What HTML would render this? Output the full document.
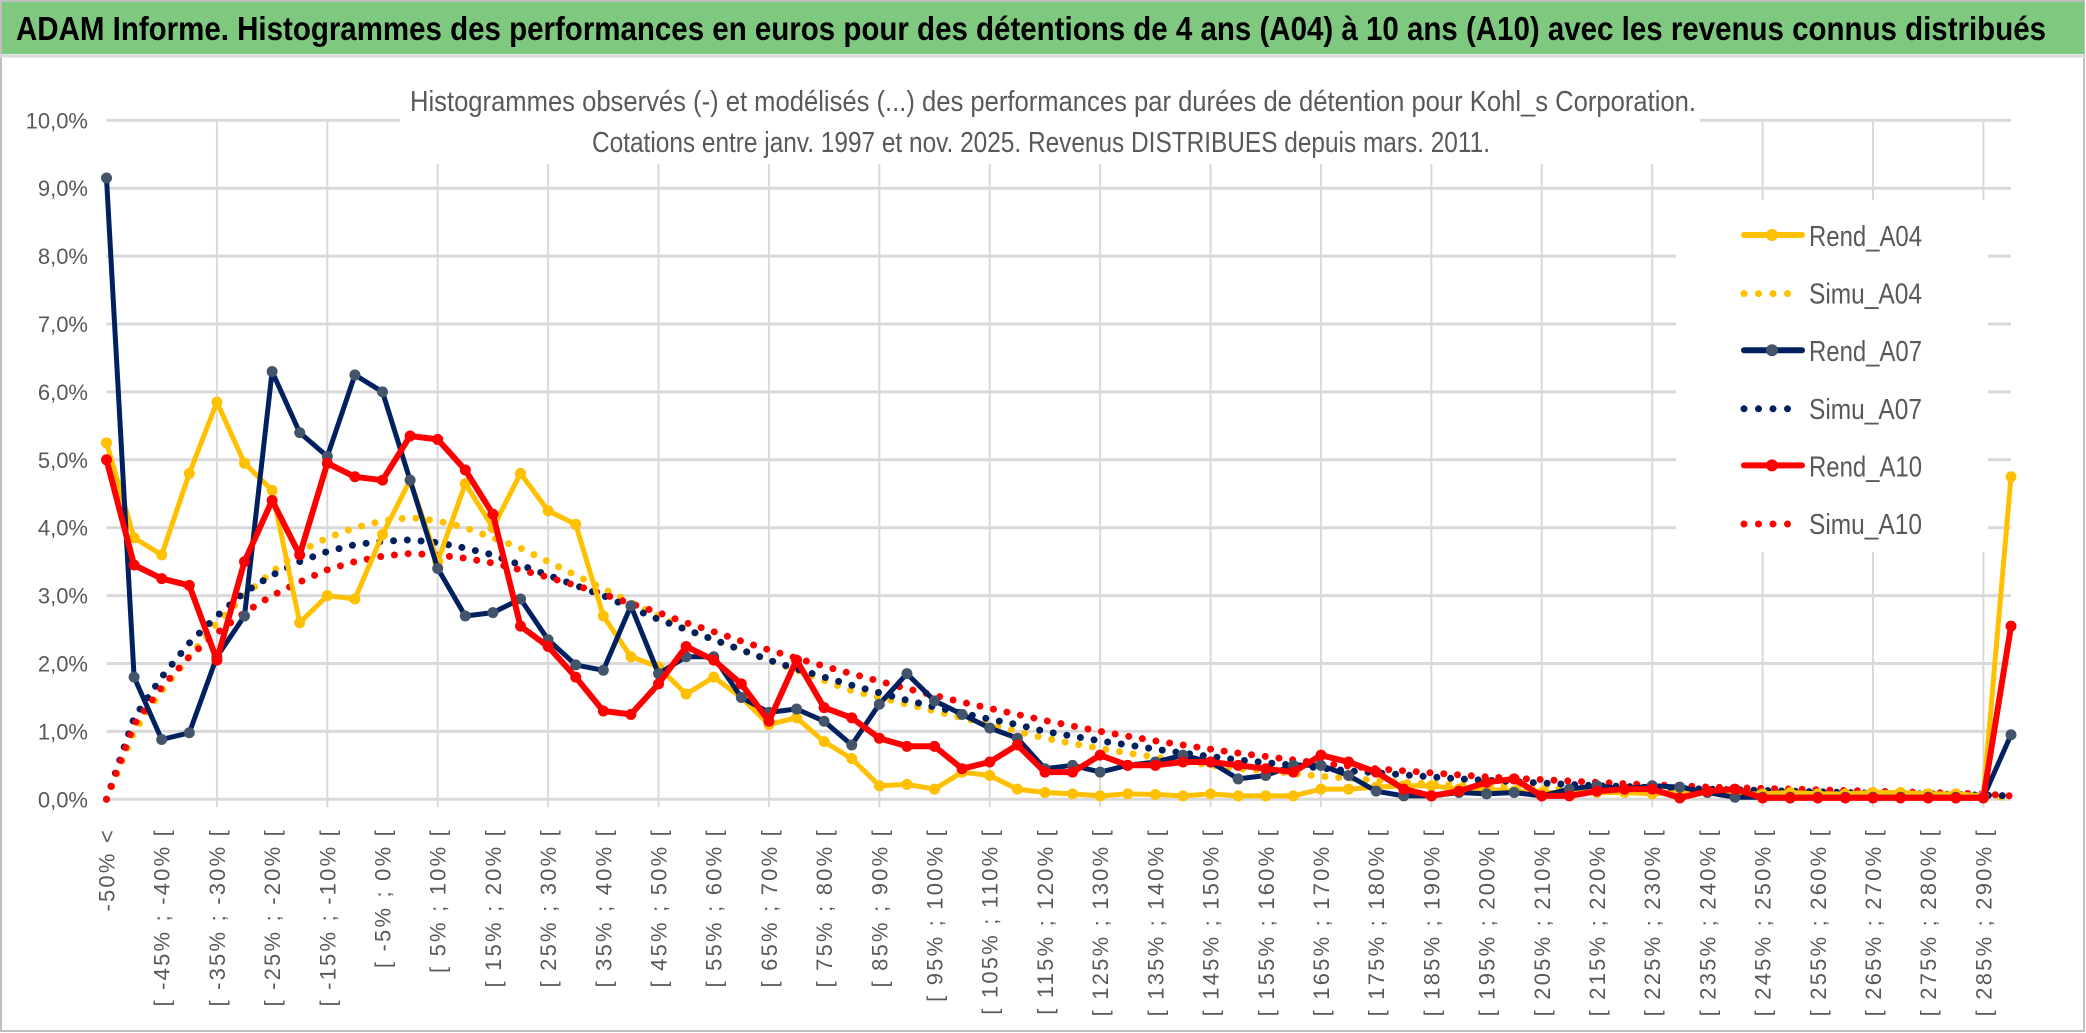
<!DOCTYPE html>
<html><head><meta charset="utf-8"><style>
html,body{margin:0;padding:0;background:#fff;}
svg{display:block;}
text{font-family:"Liberation Sans Narrow","Liberation Sans",sans-serif;}
</style></head><body>
<svg id="chart" width="2086" height="1033" viewBox="0 0 2086 1033" xmlns="http://www.w3.org/2000/svg">
<rect x="0" y="0" width="2086" height="1033" fill="#fff"/>
<rect x="1" y="1" width="2083" height="1030" fill="none" stroke="#bfbfbf" stroke-width="2"/>
<rect x="2" y="2" width="2082" height="52" fill="#7ec87f"/>
<line x1="0" y1="56" x2="2086" y2="56" stroke="#d9d9d9" stroke-width="3"/>
<text x="16" y="40" font-size="33" font-weight="bold" fill="#000" textLength="2030" lengthAdjust="spacingAndGlyphs">ADAM Informe. Histogrammes des performances en euros pour des détentions de 4 ans (A04) à 10 ans (A10) avec les revenus connus distribués</text>
<g id="grid"></g>
<rect x="400" y="78" width="1300" height="86" fill="#fff"/>
<text x="1053" y="111" font-size="29" fill="#595959" text-anchor="middle" textLength="1286" lengthAdjust="spacingAndGlyphs">Histogrammes observés (-) et modélisés (...) des performances par durées de détention pour Kohl_s Corporation.</text>
<text x="1041" y="152" font-size="29" fill="#595959" text-anchor="middle" textLength="898" lengthAdjust="spacingAndGlyphs">Cotations entre janv. 1997 et nov. 2025. Revenus DISTRIBUES depuis mars. 2011.</text>
<g id="yaxis"></g>
<g id="xaxis"></g>
<g id="series"></g>
<g id="legend"></g>
</svg>
<script>
const rendA04=[5.25,3.85,3.6,4.8,5.85,4.95,4.55,2.6,3.0,2.95,3.9,4.7,3.5,4.65,4.0,4.8,4.25,4.05,2.7,2.1,1.95,1.55,1.8,1.5,1.1,1.2,0.85,0.6,0.2,0.22,0.15,0.4,0.35,0.15,0.1,0.08,0.05,0.08,0.07,0.05,0.08,0.05,0.05,0.05,0.15,0.15,0.18,0.2,0.2,0.15,0.15,0.12,0.1,0.1,0.1,0.1,0.08,0.1,0.1,0.08,0.08,0.1,0.08,0.08,0.1,0.1,0.08,0.08,0.05,4.75];
const simuA04=[0,1.0,1.6,2.1,2.6,3.0,3.35,3.65,3.85,4.0,4.1,4.15,4.1,4.0,3.85,3.7,3.5,3.3,3.1,2.9,2.7,2.5,2.35,2.2,2.05,1.9,1.75,1.6,1.5,1.4,1.3,1.2,1.1,1.0,0.9,0.82,0.75,0.68,0.62,0.56,0.5,0.45,0.42,0.38,0.34,0.31,0.28,0.25,0.23,0.21,0.19,0.18,0.17,0.16,0.15,0.14,0.13,0.12,0.11,0.1,0.1,0.09,0.08,0.08,0.07,0.06,0.06,0.05,0.05,0.02];
const rendA07=[9.15,1.8,0.88,0.98,2.1,2.7,6.3,5.4,5.05,6.25,6.0,4.7,3.4,2.7,2.75,2.95,2.35,1.98,1.9,2.85,1.85,2.1,2.1,1.5,1.28,1.33,1.15,0.8,1.4,1.85,1.45,1.25,1.05,0.9,0.45,0.5,0.4,0.5,0.55,0.65,0.55,0.3,0.35,0.5,0.5,0.35,0.12,0.05,0.05,0.1,0.08,0.1,0.05,0.15,0.2,0.15,0.2,0.18,0.1,0.03,0.03,0.03,0.03,0.03,0.03,0.03,0.03,0.03,0.03,0.95];
const simuA07=[0,1.2,1.8,2.3,2.7,3.05,3.3,3.5,3.65,3.75,3.8,3.82,3.78,3.7,3.6,3.45,3.3,3.15,3.0,2.82,2.65,2.5,2.35,2.2,2.05,1.92,1.8,1.68,1.57,1.46,1.36,1.27,1.18,1.1,1.0,0.93,0.86,0.8,0.74,0.68,0.63,0.58,0.54,0.5,0.46,0.42,0.39,0.36,0.33,0.3,0.28,0.26,0.24,0.22,0.2,0.19,0.17,0.16,0.15,0.14,0.13,0.12,0.11,0.1,0.09,0.08,0.08,0.07,0.06,0.05];
const rendA10=[5.0,3.45,3.25,3.15,2.05,3.5,4.4,3.6,4.95,4.75,4.7,5.35,5.3,4.85,4.2,2.55,2.25,1.8,1.3,1.25,1.7,2.25,2.05,1.7,1.15,2.05,1.35,1.2,0.9,0.78,0.78,0.45,0.55,0.8,0.4,0.4,0.65,0.5,0.5,0.55,0.55,0.5,0.45,0.4,0.65,0.55,0.4,0.15,0.05,0.12,0.25,0.3,0.05,0.05,0.12,0.15,0.15,0.02,0.12,0.15,0.02,0.02,0.02,0.02,0.02,0.02,0.02,0.02,0.02,2.55];
const simuA10=[0,1.1,1.65,2.1,2.45,2.75,3.0,3.2,3.38,3.5,3.58,3.62,3.6,3.55,3.48,3.38,3.27,3.15,3.02,2.88,2.75,2.6,2.47,2.33,2.2,2.08,1.96,1.85,1.74,1.63,1.53,1.43,1.34,1.25,1.16,1.08,1.0,0.93,0.86,0.8,0.74,0.68,0.63,0.58,0.53,0.49,0.45,0.42,0.39,0.36,0.33,0.31,0.29,0.27,0.25,0.23,0.21,0.2,0.18,0.17,0.16,0.15,0.14,0.13,0.12,0.11,0.1,0.09,0.08,0.05];
const yTicks=[0,1,2,3,4,5,6,7,8,9,10];
const yTickLabels=["0,0%","1,0%","2,0%","3,0%","4,0%","5,0%","6,0%","7,0%","8,0%","9,0%","10,0%"];
const legendNames=["Rend_A04","Simu_A04","Rend_A07","Simu_A07","Rend_A10","Simu_A10"];

const NS="http://www.w3.org/2000/svg";
const N=rendA04.length;
const X0=106.5,X1=2011,Y0=799.3,PER=67.9;
function xs(i){return X0+(X1-X0)*i/(N-1);}
function ys(v){return Y0-v*PER;}
function mk(tag,attrs,parent){const e=document.createElementNS(NS,tag);for(const k in attrs)e.setAttribute(k,attrs[k]);parent.appendChild(e);return e;}
function catLabel(i){
  if(i===0)return "-50% <";
  const lo=-55+5*i,hi=lo+5;
  return "[ "+lo+"% ; "+hi+"% [";
}
const grid=document.getElementById('grid');
yTicks.forEach(t=>{
  const l=mk('line',{x1:X0,x2:X1,y1:ys(t),y2:ys(t),stroke:'#d9d9d9','stroke-width':3},grid);
  
  
});
for(let i=4;i<N;i+=4){
  const l=mk('line',{x1:xs(i),x2:xs(i),y1:ys(10),y2:Y0+8,stroke:'#d9d9d9','stroke-width':2},grid);
  
  
}
const ya=document.getElementById('yaxis');
yTicks.forEach((t,i)=>{
  const tx=mk('text',{x:88,y:ys(t)+8,'font-size':22,fill:'#595959','text-anchor':'end'},ya);
  tx.textContent=yTickLabels[i];
  
  
});
const xa=document.getElementById('xaxis');
for(let i=0;i<N;i+=2){
  const x=xs(i)+8,y=828;
  const tx=mk('text',{x:x,y:y,'font-size':22,fill:'#595959','text-anchor':'end','letter-spacing':'2.2',transform:'rotate(-90 '+x+' '+y+')',style:'font-family:"Liberation Sans",sans-serif'},xa);
  tx.textContent=catLabel(i);
  
  
}
const sg=document.getElementById('series');
function pts(arr){return arr.map((v,i)=>xs(i).toFixed(1)+','+ys(v).toFixed(1)).join(' ');}
function dotted(arr,color,name){
  const p=mk('polyline',{points:pts(arr),fill:'none',stroke:color,'stroke-width':7,'stroke-linecap':'round','stroke-dasharray':'0 13.8'},sg);
  
  
}
function solid(arr,color,w,mcol,name){
  const g=mk('g',{},sg);
  
  
  mk('polyline',{points:pts(arr),fill:'none',stroke:color,'stroke-width':w,'stroke-linejoin':'round'},g);
  arr.forEach((v,i)=>{
    const c=mk('circle',{cx:xs(i),cy:ys(v),r:5.5,fill:mcol},g);
    
    
  });
}
dotted(simuA04,'#ffc000','simu-a04-line');
dotted(simuA07,'#002060','simu-a07-line');
dotted(simuA10,'#ff0000','simu-a10-line');
solid(rendA04,'#ffc000',5,'#ffc000','rend-a04-line');
solid(rendA07,'#002060',5,'#44546a','rend-a07-line');
solid(rendA10,'#ff0000',6,'#ff0000','rend-a10-line');

const lg=document.getElementById('legend');
mk('rect',{x:1676,y:200,width:312,height:352,fill:'#fff'},lg);
const styles=[
 {c:'#ffc000',dot:false,m:'#ffc000'},{c:'#ffc000',dot:true},
 {c:'#002060',dot:false,m:'#44546a'},{c:'#002060',dot:true},
 {c:'#ff0000',dot:false,m:'#ff0000'},{c:'#ff0000',dot:true}];
legendNames.forEach((n,i)=>{
  const y=235+i*57.6;
  const g=mk('g',{},lg);
  
  
  const s=styles[i];
  if(s.dot){
    mk('line',{x1:1744,x2:1802,y1:y+1,y2:y+1,stroke:s.c,'stroke-width':7,'stroke-linecap':'round','stroke-dasharray':'0 14.5'},g);
  } else {
    mk('line',{x1:1744,x2:1802,y1:y,y2:y,stroke:s.c,'stroke-width':6,'stroke-linecap':'round'},g);
    mk('circle',{cx:1772,cy:y,r:6,fill:s.m},g);
  }
  const t=mk('text',{x:1809,y:y+11,'font-size':29,fill:'#595959',textLength:113,lengthAdjust:'spacingAndGlyphs'},g);
  t.textContent=n;
});
</script>
</body></html>
